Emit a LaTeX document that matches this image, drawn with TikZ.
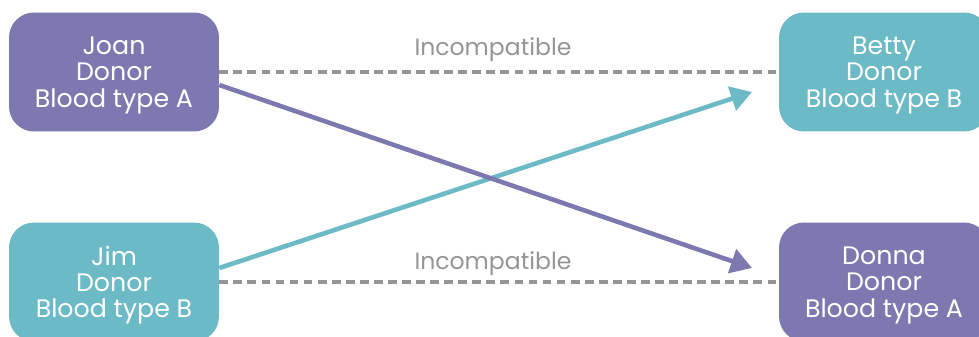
\documentclass[tikz,border=0pt]{standalone}
\usepackage{fontspec}
\setmainfont{Poppins}
\usetikzlibrary{arrows.meta,calc}

\definecolor{donorpurple}{HTML}{7E78B0}
\definecolor{donorteal}{HTML}{6BBAC6}
\definecolor{linegray}{HTML}{959597}

\begin{document}
\begin{tikzpicture}[
    x=0.02cm, y=-0.02cm,
    donor/.style={rounded corners=0.5cm, minimum width=4.2cm, minimum height=2.38cm, align=center, text=white, text depth=0pt, font=\fontsize{14.4}{15}\selectfont, inner sep=0pt},
    incompat/.style={draw=linegray, line width=1.8pt, dash pattern=on 5pt off 3pt},
    lbl/.style={text=linegray, font=\fontsize{13.4}{15}\selectfont, inner sep=0pt},
    arr/.style={-{Triangle[length=12pt,width=14pt]}, line width=2.6pt}
]
\useasboundingbox (0,0) rectangle (979,337);
\begin{scope}
\clip (0,0) rectangle (979,337);
\node[donor, fill=donorpurple] (joan) at (114,72) {Joan\\Donor\\Blood type A};
\node[donor, fill=donorteal] (jim) at (114,282) {Jim\\Donor\\Blood type B};
\node[donor, fill=donorteal] (betty) at (884,72) {Betty\\Donor\\Blood type B};
\node[donor, fill=donorpurple] (donna) at (884,282) {Donna\\Donor\\Blood type A};
\end{scope}

\node[lbl] (top) at (493,50) {Incompatible};
\node[lbl] (bottom) at (493,264) {Incompatible};

\draw[incompat] (joan.east) -- (betty.west);
\draw[incompat] (jim.east) -- (donna.west);

\coordinate (tealtip) at (752,92);
\coordinate (purpletip) at (752,268);
\draw[arr, donorteal] ([yshift=0.28cm]jim.east) -- (tealtip);
\draw[arr, donorpurple] ([yshift=-0.26cm]joan.east) -- (purpletip);
\end{tikzpicture}
\end{document}
